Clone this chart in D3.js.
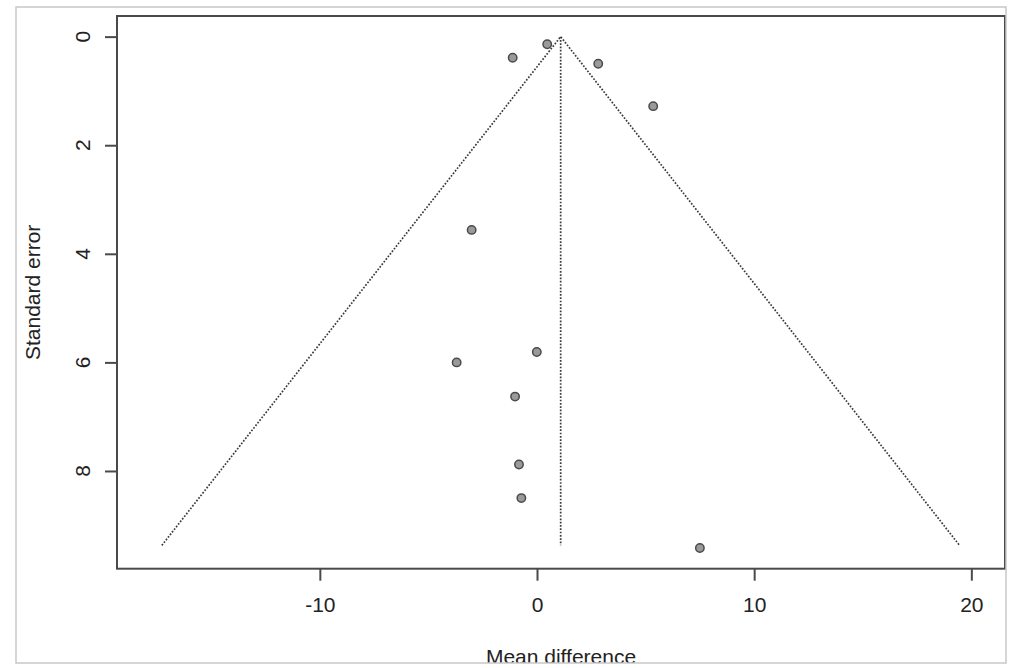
<!DOCTYPE html>
<html>
<head>
<meta charset="utf-8">
<script src="https://cdn.jsdelivr.net/npm/d3@7"></script>
<style>
  html, body { margin: 0; padding: 0; background: #fff; }
  svg { display: block; }
  text { font-family: "Liberation Sans", Arial, sans-serif; fill: #222; }
</style>
</head>
<body>
<svg id="chart" width="1024" height="668"></svg>
<script>
// ---- data ----
const meanDifference = [0.47, -1.12, 2.82, 5.35, -3.01, -0.01, -3.70, -1.01, -0.83, -0.72, 7.50];
const standardError  = [0.14, 0.39, 0.50, 1.28, 3.56, 5.81, 6.00, 6.63, 7.88, 8.50, 9.42];
const pooledEstimate = 1.09;
const funnelMaxSE = 9.37;
const zCrit = 1.96;
const xTicks = [-10, 0, 10, 20];
const yTicks = [0, 2, 4, 6, 8];
const xTitle = "Mean difference";
const yTitle = "Standard error";

// ---- layout ----
const svg = d3.select("#chart");
const plot = { left: 117, right: 1005, top: 16, bottom: 568.7 };

const x = d3.scaleLinear().domain([-19.34, 21.55]).range([plot.left, plot.right]);
const y = d3.scaleLinear().domain([-0.38, 9.80]).range([plot.top, plot.bottom]);
const fmt = d => String(d);

svg.append("defs").append("clipPath").attr("id", "frameClip")
  .append("rect").attr("x", 16).attr("y", 7).attr("width", 990).attr("height", 656);

const root = svg.append("g").attr("clip-path", "url(#frameClip)");

// funnel lines
const funnel = [
  [pooledEstimate - zCrit * funnelMaxSE, funnelMaxSE],
  [pooledEstimate, 0],
  [pooledEstimate + zCrit * funnelMaxSE, funnelMaxSE]
];
const line = d3.line().x(d => x(d[0])).y(d => y(d[1]));
root.append("path")
  .attr("d", line(funnel))
  .attr("fill", "none")
  .attr("stroke", "#3a3a3a")
  .attr("stroke-width", 1.7)
  .attr("stroke-dasharray", "1.7 1.6");
root.append("path")
  .attr("d", line([[pooledEstimate, 0], [pooledEstimate, funnelMaxSE]]))
  .attr("fill", "none")
  .attr("stroke", "#3a3a3a")
  .attr("stroke-width", 1.7)
  .attr("stroke-dasharray", "1.7 1.6");

// points
root.append("g").selectAll("circle")
  .data(meanDifference.map((m, i) => ({ m, se: standardError[i] })))
  .join("circle")
  .attr("cx", d => x(d.m))
  .attr("cy", d => y(d.se))
  .attr("r", 4.2)
  .attr("fill", "#9a9a9a")
  .attr("stroke", "#4a4a4a")
  .attr("stroke-width", 1.5);

// plot box
root.append("rect")
  .attr("x", plot.left).attr("y", plot.top)
  .attr("width", plot.right - plot.left).attr("height", plot.bottom - plot.top)
  .attr("fill", "none").attr("stroke", "#4a4a4a").attr("stroke-width", 2);

// x axis
const xAxis = root.append("g")
  .attr("transform", `translate(0,${plot.bottom})`)
  .call(d3.axisBottom(x).tickValues(xTicks).tickSize(12).tickPadding(16).tickFormat(fmt));
xAxis.select(".domain").remove();
xAxis.selectAll(".tick line").attr("stroke", "#4a4a4a").attr("stroke-width", 2);
xAxis.selectAll(".tick text").attr("font-size", 21).attr("fill", "#222")
  .attr("font-family", "Liberation Sans, Arial, sans-serif");

// y axis
const yAxis = root.append("g")
  .attr("transform", `translate(${plot.left},0)`)
  .call(d3.axisLeft(y).tickValues(yTicks).tickSize(12).tickFormat(""));
yAxis.select(".domain").remove();
yAxis.selectAll(".tick line").attr("stroke", "#4a4a4a").attr("stroke-width", 2);
root.append("g").selectAll("text")
  .data(yTicks)
  .join("text")
  .attr("transform", d => `translate(89.5,${y(d)}) rotate(-90)`)
  .attr("text-anchor", "middle")
  .attr("font-size", 21)
  .text(fmt);

// axis titles
root.append("text")
  .attr("x", (plot.left + plot.right) / 2)
  .attr("y", 664)
  .attr("text-anchor", "middle")
  .attr("font-size", 21)
  .text(xTitle);
root.append("text")
  .attr("transform", `translate(40,${(plot.top + plot.bottom) / 2}) rotate(-90)`)
  .attr("text-anchor", "middle")
  .attr("font-size", 21)
  .text(yTitle);

// outer frame
svg.append("rect")
  .attr("x", 16).attr("y", 7).attr("width", 990).attr("height", 656)
  .attr("fill", "none").attr("stroke", "#c8c8c8").attr("stroke-width", 1.5);
</script>
</body>
</html>
